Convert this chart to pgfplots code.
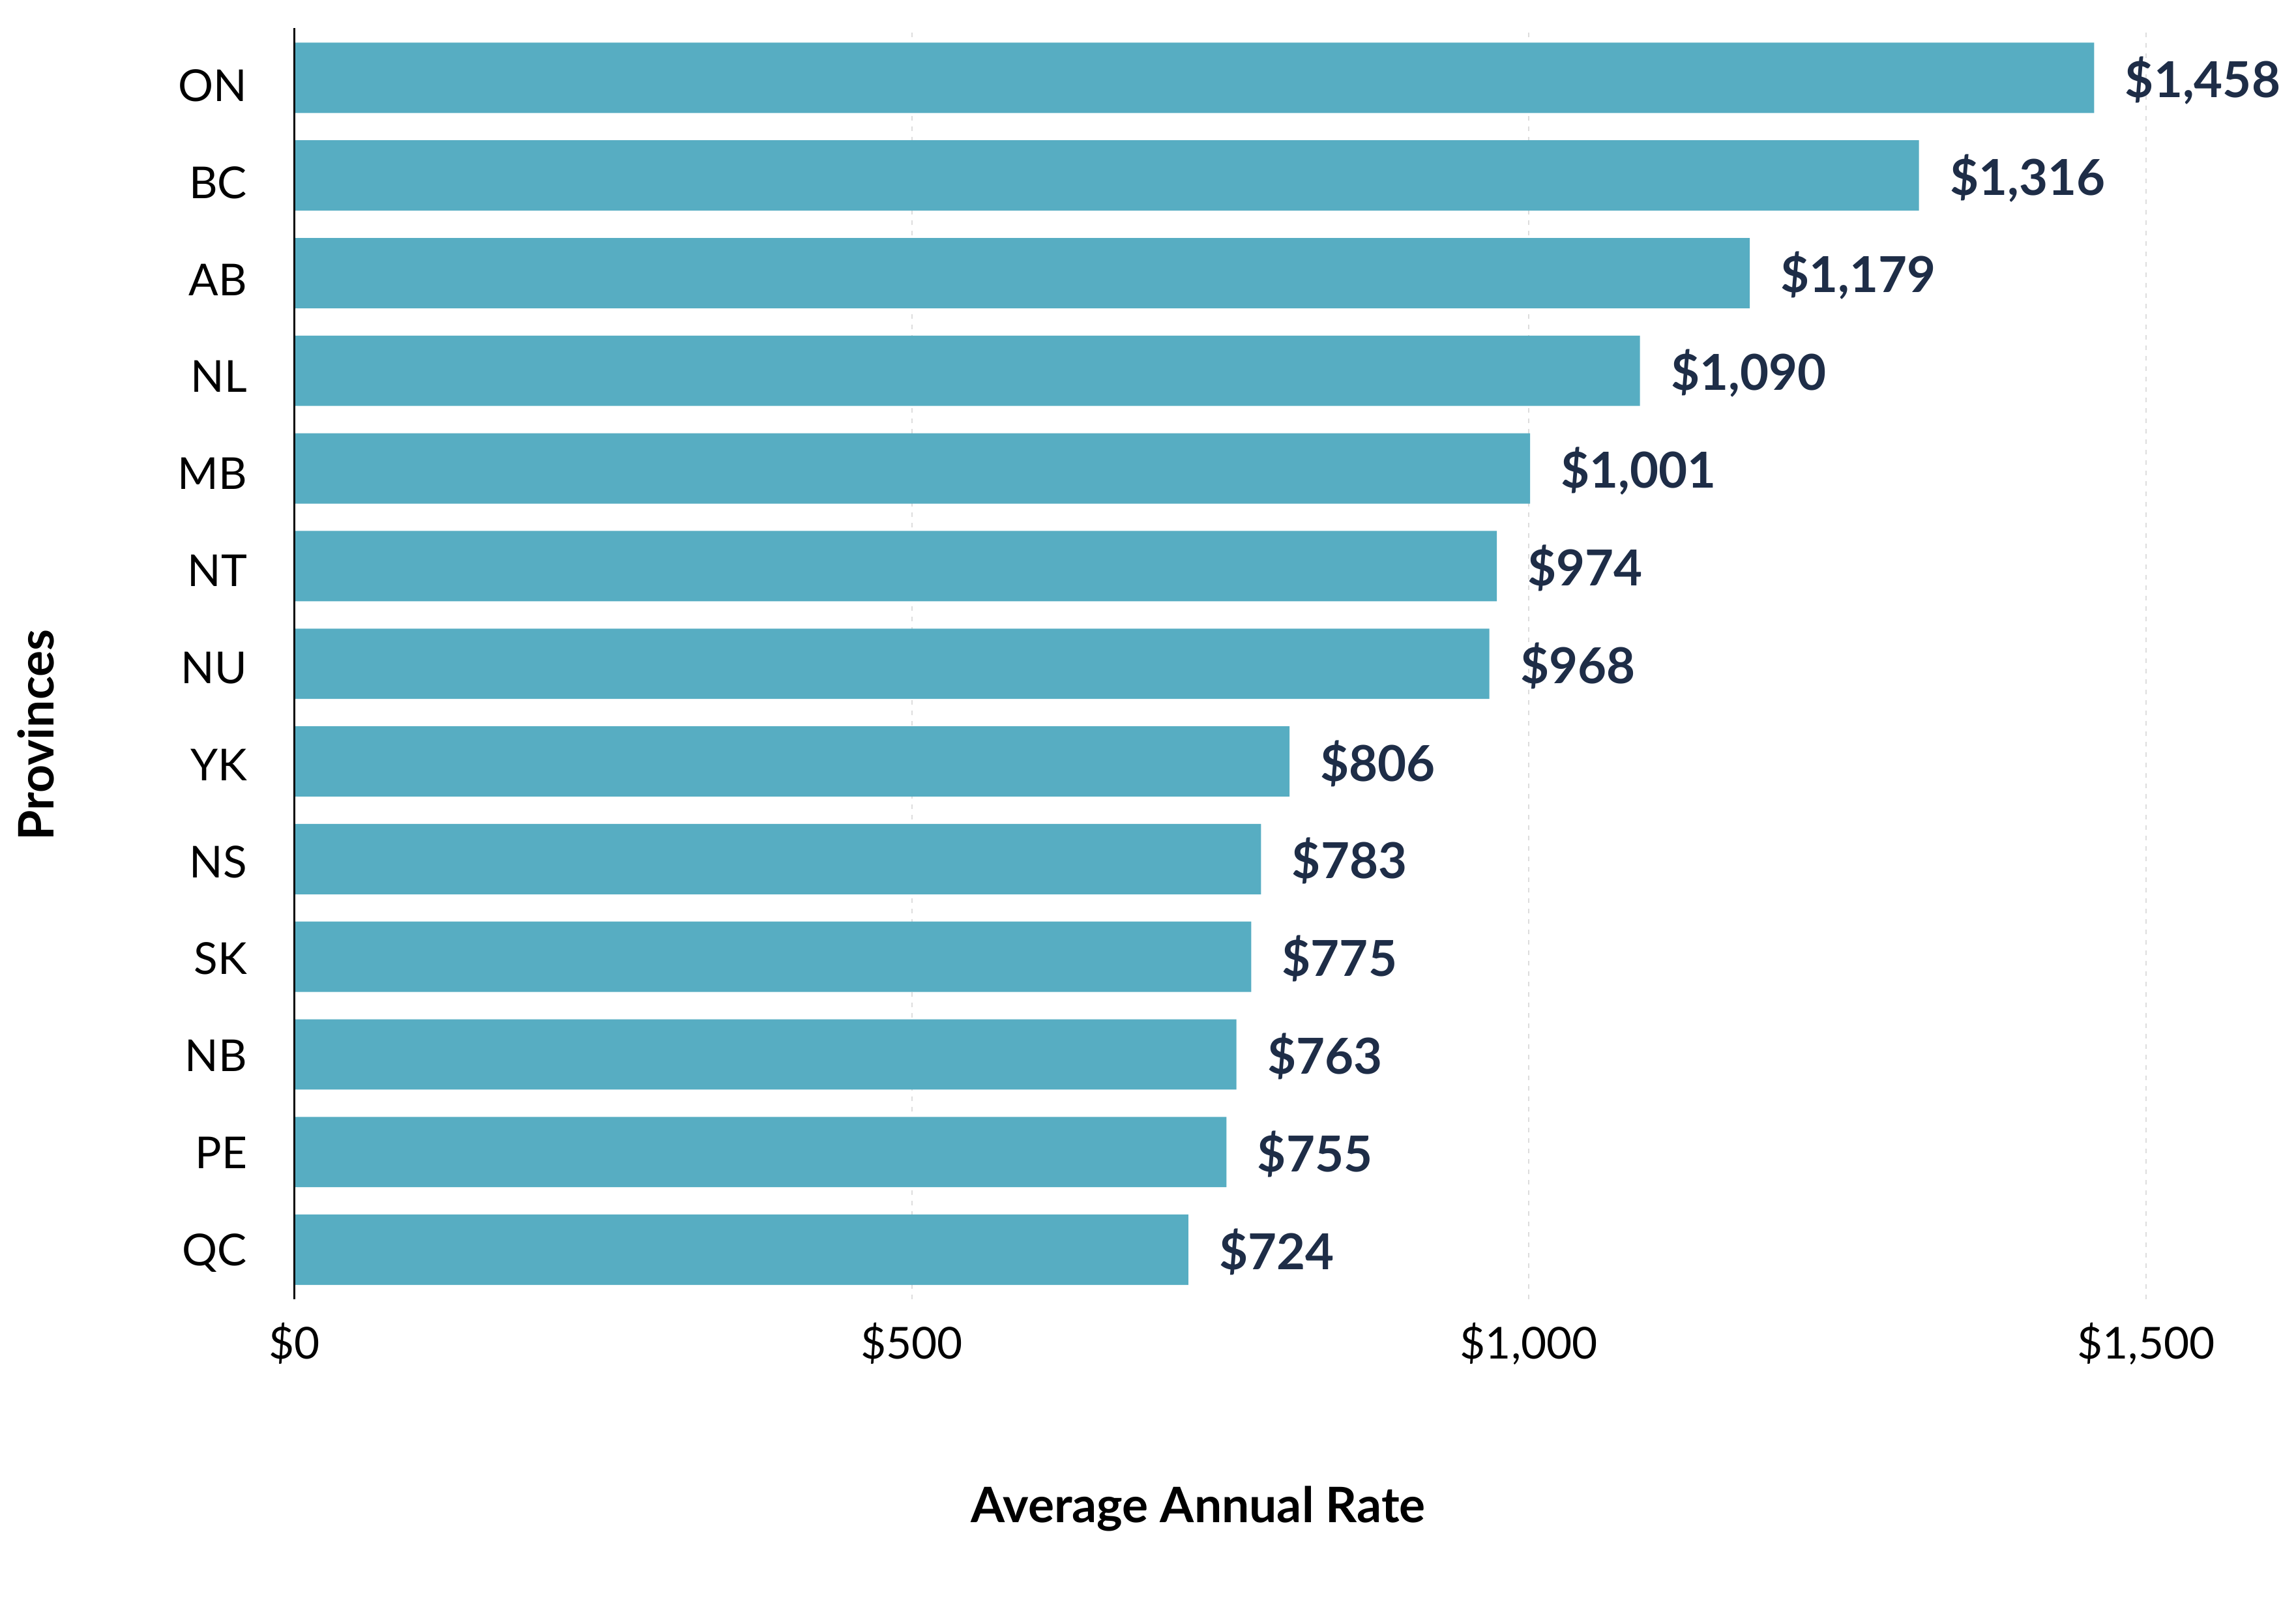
\documentclass[border=0pt]{standalone}
\usepackage{pgfplots}
\usepackage{pgfplotstable}
\pgfplotsset{compat=1.18}
\usepackage{fontspec}
\setmainfont{Lato}
\definecolor{BarTeal}{HTML}{57ADC2}
\definecolor{LabelNavy}{HTML}{1E2D47}
\definecolor{GridGray}{HTML}{DDDDDD}

% provinces from bottom (0) to top (12)
\pgfplotstableread{
pos value
0  724
1  755
2  763
3  775
4  783
5  806
6  968
7  974
8  1001
9  1090
10 1179
11 1316
12 1458
}\ratetable

\begin{document}
\begin{tikzpicture}
\useasboundingbox (-90.4pt,-93.06pt) rectangle (614pt,398.7pt);
\begin{axis}[
    at={(0pt,0pt)}, anchor=south west,
    scale only axis,
    width=579.73pt, height=390.1pt,
    xbar, bar width=0.72, bar shift=0pt,
    xmin=0, xmax=1531, ymin=-0.51, ymax=12.51,
    enlargelimits=false, clip=false,
    axis line style={draw=none},
    major tick length=0pt,
    xtick={0,500,1000,1500},
    xticklabel={\$\pgfmathprintnumber{\tick}},
    % labels drift slightly below their bars towards the top, as in the original
    ytick={0,0.99332,1.98665,2.97997,3.97330,4.96662,5.95995,6.95327,7.94660,8.93992,9.93324,10.92657,11.91989},
    yticklabels={QC,PE,NB,SK,NS,YK,NU,NT,MB,NL,AB,BC,ON},
    /pgf/number format/1000 sep={,},
    /pgf/number format/assume math mode=true,
    tick label style={font=\fontsize{13.5}{16}\selectfont, text=black},
    xticklabel style={anchor=base, inner sep=0pt, yshift=-18.3pt},
    yticklabel style={anchor=base east, inner sep=0pt, xshift=-14.4pt, yshift=-4.84pt},
    xmajorgrids=true,
    major grid style={GridGray, line width=0.35pt, dash pattern=on 1.55pt off 1.65pt},
    xlabel={Average Annual Rate},
    xlabel style={at={(axis description cs:0.4782,-0.1751)}, anchor=base, inner sep=0pt,
        font=\bfseries\fontsize{15}{18}\selectfont},
    ylabel={Provinces},
    ylabel style={at={(axis description cs:-0.1276,0.444)}, anchor=base, inner sep=0pt,
        font=\bfseries\fontsize{15}{18}\selectfont},
    point meta=x,
    nodes near coords={\$\pgfmathprintnumber{\pgfplotspointmeta}},
    every node near coord/.append style={anchor=base west, inner sep=0pt,
        xshift=9.3pt, yshift=-6pt, text=LabelNavy,
        font=\bfseries\fontsize{15.2}{18}\selectfont},
]
\addplot[fill=BarTeal, draw=none] table[x=value, y=pos] {\ratetable};
\draw[black, line width=0.6pt] (rel axis cs:0,0) -- (rel axis cs:0,1);
\end{axis}
\end{tikzpicture}
\end{document}
